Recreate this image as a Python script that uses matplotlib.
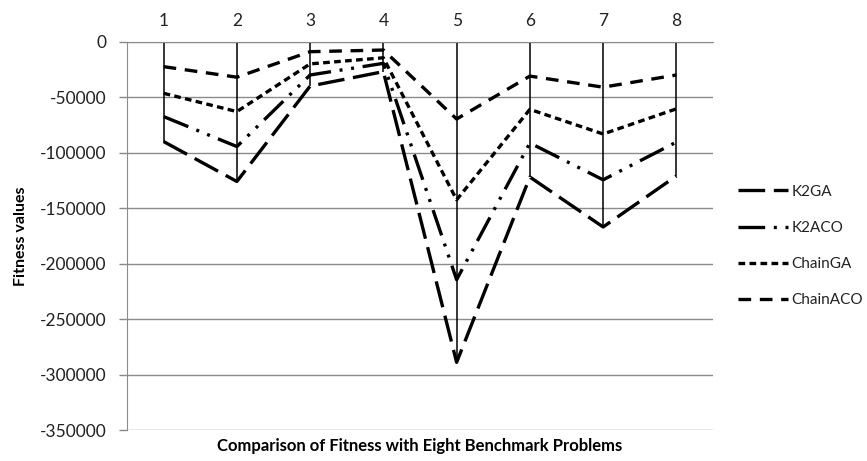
import matplotlib
matplotlib.use("Agg")
import matplotlib.pyplot as plt

# values
problems = [1, 2, 3, 4, 5, 6, 7, 8]
k2ga = [-90000, -126000, -40000, -27000, -289000, -122000, -167000, -121000]
k2aco = [-67500, -94500, -30000, -19500, -214500, -91300, -124500, -90500]
chain_ga = [-46500, -63000, -20000, -14500, -142500, -61000, -83200, -60500]
chain_aco = [-22500, -32000, -9000, -7500, -69700, -31000, -41000, -30000]
y_ticks = [0, -50000, -100000, -150000, -200000, -250000, -300000, -350000]

plt.rcParams["font.family"] = ["Lato", "DejaVu Sans"]

W, H = 867, 461
fig = plt.figure(figsize=(W / 100, H / 100), dpi=100)
ax = fig.add_axes([127 / W, 31 / H, 586 / W, 388.3 / H])

series = [
    ("K2GA", k2ga, (8, 2.6)),
    ("K2ACO", k2aco, (8, 2.6, 0.9, 2.6, 0.9, 2.6)),
    ("ChainGA", chain_ga, (2.0, 1.3)),
    ("ChainACO", chain_aco, (3.8, 2.6)),
]

# drop lines from the lowest point up to 0
lows = [min(v) for v in zip(*[s[1] for s in series])]
ax.vlines(problems, lows, 0, color="black", lw=1.1, zorder=2)

for name, vals, dash in series:
    ax.plot(problems, vals, color="black", lw=2.4, dashes=dash,
            label=name, zorder=3)

ax.set_xlim(0.5, 8.5)
ax.set_ylim(-350000, 0)
ax.set_yticks(y_ticks)
ax.set_yticklabels([str(v) for v in y_ticks])
ax.set_xticks(problems)
ax.xaxis.tick_top()
ax.tick_params(axis="x", length=0, pad=9, labelsize=12.5, labelcolor="#222222")
ax.tick_params(axis="y", length=6, width=1, color="#888888", pad=9,
               labelsize=12.5, labelcolor="#222222")

ax.grid(axis="y", color="#8c8c8c", lw=1)
ax.set_axisbelow(True)
for side in ["right", "bottom"]:
    ax.spines[side].set_visible(False)
ax.spines["left"].set_color("#8c8c8c")
ax.spines["top"].set_color("#8c8c8c")

ax.set_ylabel("Fitness values", fontsize=11.5, fontweight="bold", labelpad=8)
ax.set_xlabel("Comparison of Fitness with Eight Benchmark Problems",
              fontsize=12, fontweight="bold", labelpad=6)

fig.legend(loc="center left", bbox_to_anchor=(724 / W, (H - 246) / H),
           frameon=False, fontsize=11, handlelength=3.3, handletextpad=0.2,
           labelspacing=1.45, labelcolor="#222222")

fig.savefig("out.png", dpi=100)
